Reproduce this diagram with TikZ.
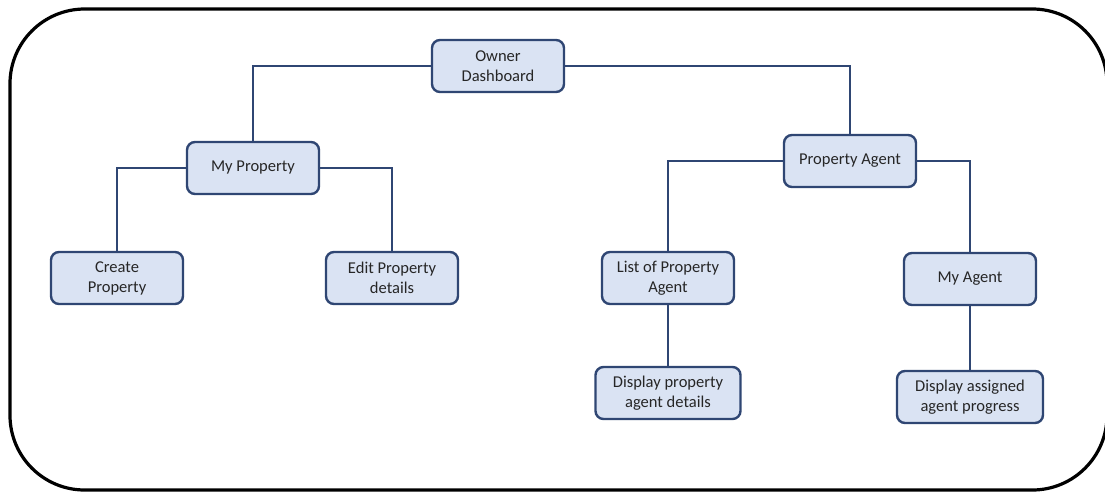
\documentclass[tikz,border=0pt]{standalone}
\usepackage{fontspec}
\setmainfont{Carlito}
\begin{document}
\begin{tikzpicture}[x=0.75pt,y=-0.75pt,
  box/.style={draw=boxline,fill=boxfill,line width=1.8pt,rounded corners=6pt,
    minimum width=132*0.75pt,minimum height=52*0.75pt,align=center,
    font=\fontsize{12.4}{15}\selectfont,text=textc,inner sep=2pt},
  link/.style={draw=boxline,line width=1.6pt}]
\definecolor{boxline}{HTML}{2F4673}
\definecolor{boxfill}{HTML}{DAE3F3}
\definecolor{textc}{HTML}{262626}
\useasboundingbox (0,0) rectangle (1105,494);
\draw[line width=2.4pt,rounded corners=56pt] (10,9) rectangle (1107,490);
\node[box] (owner) at (498,66) {Owner\\Dashboard};
\node[box] (myprop) at (253,168) {My Property};
\node[box] (pagent) at (850,161) {Property Agent};
\node[box] (create) at (117,278) {Create\\Property};
\node[box] (edit) at (392,278) {Edit Property\\details};
\node[box] (list) at (668,278) {List of Property\\Agent};
\node[box] (myagent) at (970,279) {My Agent};
\node[box,minimum width=145*0.75pt] (dispprop) at (668,393) {Display property\\agent details};
\node[box,minimum width=146*0.75pt] (dispassign) at (970,397) {Display assigned\\agent progress};
\draw[link] (owner.west) -| (myprop.north);
\draw[link] (owner.east) -| (pagent.north);
\draw[link] (myprop.west) -| (create.north);
\draw[link] (myprop.east) -| (edit.north);
\draw[link] (pagent.west) -| (list.north);
\draw[link] (pagent.east) -| (myagent.north);
\draw[link] (list.south) -- (dispprop.north);
\draw[link] (myagent.south) -- (dispassign.north);
\end{tikzpicture}
\end{document}
